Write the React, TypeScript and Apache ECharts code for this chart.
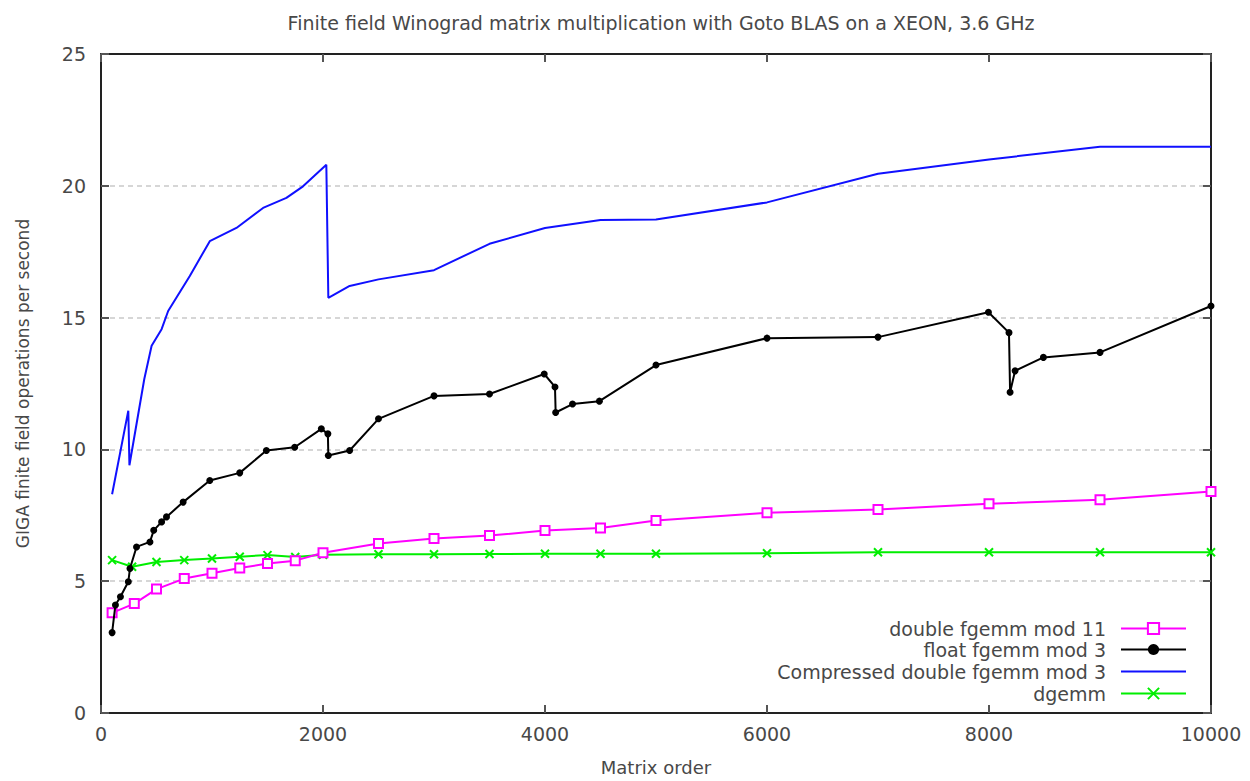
import React, { useEffect, useRef } from "react";
import * as echarts from "echarts";

const titleText = "Finite field Winograd matrix multiplication with Goto BLAS on a XEON, 3.6 GHz";
const xAxisName = "Matrix order";
const yAxisName = "GIGA finite field operations per second";

const seriesNames = [
  "double fgemm mod 11",
  "float fgemm mod 3",
  "Compressed double fgemm mod 3",
  "dgemm",
];

const doubleX = [100, 300, 500, 750, 1000, 1250, 1500, 1750, 2000, 2500, 3000, 3500, 4000, 4500, 5000, 6000, 7000, 8000, 9000, 10000];
const doubleY = [3.8, 4.15, 4.7, 5.1, 5.3, 5.5, 5.67, 5.78, 6.08, 6.43, 6.62, 6.73, 6.92, 7.02, 7.3, 7.6, 7.72, 7.94, 8.09, 8.4];

const floatX = [100, 130, 175, 246, 261, 320, 441, 475, 546, 590, 740, 980, 1250, 1490, 1745, 1985, 2044, 2048, 2240, 2500, 3000, 3500, 3993, 4090, 4096, 4248, 4490, 5000, 6000, 7000, 7995, 8180, 8190, 8235, 8490, 9000, 10000];
const floatY = [3.05, 4.1, 4.41, 4.98, 5.48, 6.3, 6.49, 6.93, 7.25, 7.44, 8.0, 8.82, 9.11, 9.96, 10.08, 10.78, 10.59, 9.77, 9.96, 11.16, 12.03, 12.1, 12.86, 12.37, 11.4, 11.72, 11.83, 13.2, 14.22, 14.26, 15.2, 14.43, 12.17, 12.98, 13.49, 13.68, 15.44];

const compX = [100, 246, 256, 390, 456, 546, 605, 800, 980, 1220, 1460, 1670, 1820, 2030, 2048, 2240, 2500, 3000, 3500, 4000, 4500, 5000, 6000, 7000, 8000, 9000, 10000];
const compY = [8.3, 11.47, 9.4, 12.67, 13.93, 14.56, 15.25, 16.58, 17.9, 18.4, 19.16, 19.54, 19.98, 20.8, 15.75, 16.2, 16.45, 16.8, 17.8, 18.4, 18.7, 18.72, 19.37, 20.46, 21.0, 21.48, 21.48];

const dgemmX = [100, 280, 500, 750, 1000, 1250, 1500, 1750, 2000, 2500, 3000, 3500, 4000, 4500, 5000, 6000, 7000, 8000, 9000, 10000];
const dgemmY = [5.8, 5.55, 5.73, 5.8, 5.86, 5.93, 5.99, 5.92, 6.0, 6.02, 6.02, 6.03, 6.04, 6.04, 6.04, 6.06, 6.1, 6.1, 6.1, 6.1];

const xTicks = { min: 0, max: 10000, interval: 2000 };
const yTicks = { min: 0, max: 25, interval: 5 };

const FONT = "DejaVu Sans";
const TEXT = "#484848";

function pairs(xs: number[], ys: number[]) {
  return xs.map((x, i) => [x, ys[i]]);
}

export default function App() {
  const ref = useRef<HTMLDivElement>(null);
  useEffect(() => {
    document.body.style.margin = "0";
    const chart = echarts.init(ref.current!, null, { renderer: "svg" });
    const axisLine = { show: true, onZero: false, lineStyle: { color: "#222", width: 2 } };
    const tick = { show: true, inside: true, length: 8, lineStyle: { color: "#555", width: 2 } };
    const legendRows = [630, 651, 673, 695];
    chart.setOption({
      animation: false,
      backgroundColor: "#fff",
      title: {
        text: titleText,
        left: 656,
        top: 8,
        textAlign: "center",
        textStyle: { fontFamily: FONT, fontSize: 19, fontWeight: "normal", color: TEXT },
      },
      legend: seriesNames.map((n, i) => ({
        data: [
          i === 2
            ? { name: n, itemStyle: { color: "transparent", borderColor: "transparent" } }
            : { name: n },
        ],
        orient: "horizontal",
        align: "right",
        right: 63,
        top: legendRows[i] - 11,
        padding: 0,
        itemWidth: 65,
        itemHeight: 14,
        selectedMode: false,
        textStyle: { fontFamily: FONT, fontSize: 19, color: TEXT, padding: [0, 10, 0, 0] },
      })),
      grid: { left: 101, right: 39, top: 54, bottom: 65, containLabel: false },
      xAxis: [
        {
          type: "value",
          ...xTicks,
          name: xAxisName,
          nameLocation: "middle",
          nameGap: 45,
          nameTextStyle: { fontFamily: FONT, fontSize: 18, color: TEXT },
          axisLine,
          axisTick: tick,
          axisLabel: { fontFamily: FONT, fontSize: 19, color: TEXT, margin: 11, formatter: (v: number) => String(v) },
          splitLine: { show: false },
        },
        {
          type: "value",
          ...xTicks,
          position: "top",
          axisLine,
          axisTick: tick,
          axisLabel: { show: false },
          splitLine: { show: false },
        },
      ],
      yAxis: [
        {
          type: "value",
          ...yTicks,
          name: yAxisName,
          nameLocation: "middle",
          nameGap: 70,
          nameRotate: 90,
          nameTextStyle: { fontFamily: FONT, fontSize: 17, color: TEXT },
          axisLine,
          axisTick: tick,
          axisLabel: { fontFamily: FONT, fontSize: 19, color: TEXT, margin: 15 },
          splitLine: { show: true, lineStyle: { color: "#d6d6d6", width: 2, type: [5, 4] } },
        },
        {
          type: "value",
          ...yTicks,
          position: "right",
          axisLine,
          axisTick: tick,
          axisLabel: { show: false },
          splitLine: { show: false },
        },
      ],
      series: [
        {
          name: seriesNames[0],
          type: "line",
          data: pairs(doubleX, doubleY),
          symbol: "emptyRect",
          symbolSize: 9,
          lineStyle: { color: "#ff00ff", width: 2 },
          itemStyle: { color: "#ff00ff", borderColor: "#ff00ff", borderWidth: 2 },
          z: 3,
        },
        {
          name: seriesNames[1],
          type: "line",
          data: pairs(floatX, floatY),
          symbol: "circle",
          symbolSize: 7,
          lineStyle: { color: "#000", width: 2 },
          itemStyle: { color: "#000" },
          z: 4,
        },
        {
          name: seriesNames[2],
          type: "line",
          data: pairs(compX, compY),
          symbol: "none",
          lineStyle: { color: "#1010ff", width: 2 },
          itemStyle: { color: "#1010ff" },
          z: 2,
        },
        {
          name: seriesNames[3],
          type: "line",
          data: pairs(dgemmX, dgemmY),
          symbol: "path://M0,0L10,10M10,0L0,10",
          symbolSize: 8,
          lineStyle: { color: "#00ee00", width: 2 },
          itemStyle: { color: "#00ee00", borderColor: "#00ee00", borderWidth: 2 },
          z: 2,
        },
      ],
    });
    return () => chart.dispose();
  }, []);
  return <div ref={ref} style={{ width: 1250, height: 781 }} />;
}
